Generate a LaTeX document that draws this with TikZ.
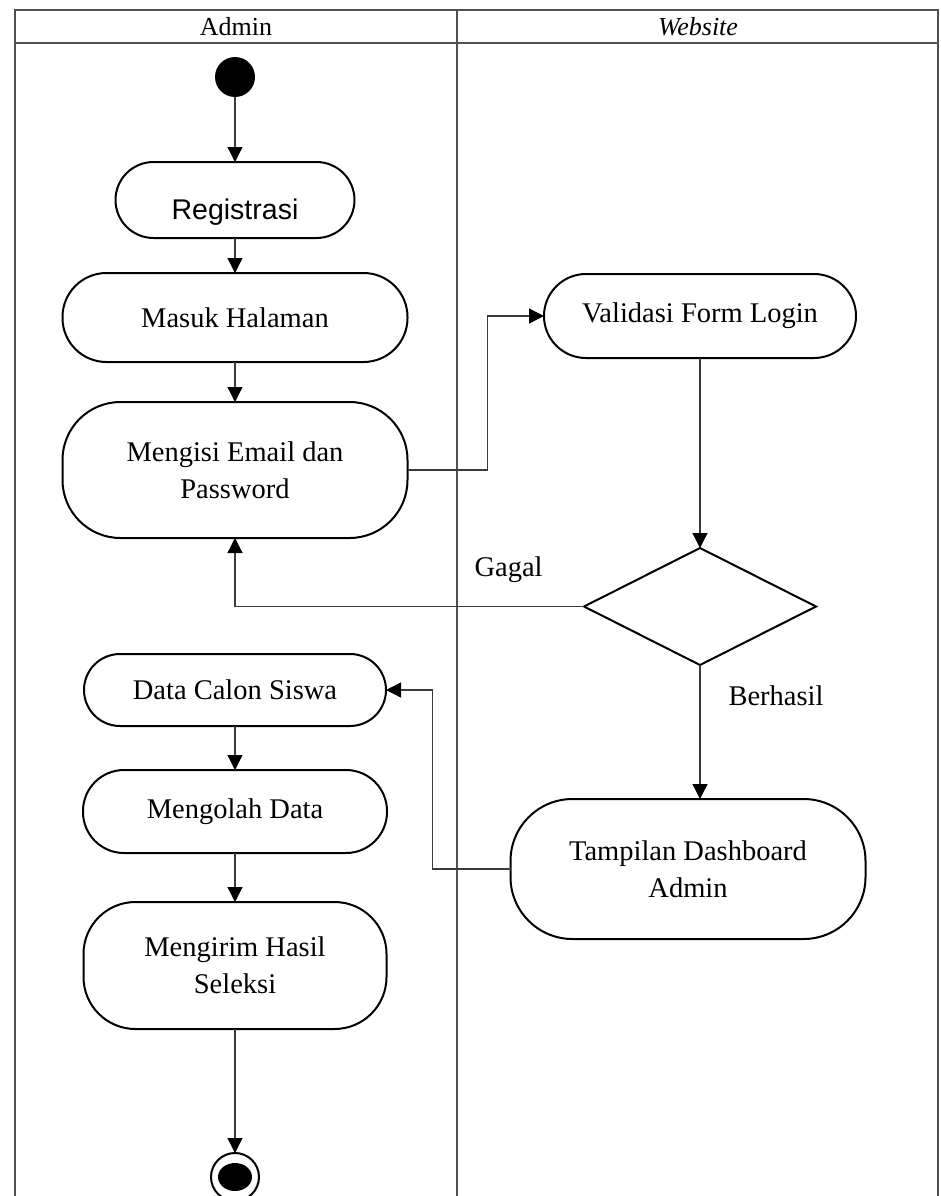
\documentclass[tikz,border=0pt]{standalone}
\usepackage{fontspec}
\setmainfont{Liberation Serif}
\newfontfamily\armfont{Liberation Sans}
\usetikzlibrary{positioning, arrows.meta, shapes.geometric}
\definecolor{lgray}{HTML}{505050}
\definecolor{cgray}{HTML}{3A3A3A}

\begin{document}
\begin{tikzpicture}[x=1pt, y=-1pt,
    act/.style={rectangle, draw=black, line width=2pt, rounded corners=#1, align=center, font=\fontsize{28.5}{37}\selectfont, inner sep=0pt, outer sep=0pt},
    act/.default=40pt,
    arr/.style={-{Triangle[length=15pt, width=15pt, color=black]}, line width=1.3pt, cgray},
    lane/.style={line width=1.5pt, lgray},
    lbl/.style={font=\fontsize{28.5}{37}\selectfont},
]
\useasboundingbox (0,0) rectangle (940,1196);

% swimlanes
\draw[lane] (15,1196) -- (15,10) -- (938,10) -- (938,1196);
\draw[lane] (15,43) -- (938,43);
\draw[lane] (457,10) -- (457,1196);
\node[font=\fontsize{26}{30}\selectfont] (hadmin) at (236,27) {Admin};
\node[font=\fontsize{26}{30}\selectfont] (hweb) at (698,27) {\textit{Website}};

% admin lane
\node[circle, fill=black, minimum size=40pt, inner sep=0pt, outer sep=0pt] (start) at (235,77) {};
\node[act=38pt, minimum width=239pt, minimum height=76pt, below=65pt of start, font=\armfont\fontsize{28.5}{37}\selectfont] (regis) {\raisebox{-12pt}[\height][\depth]{Registrasi}};
\node[act=44pt, minimum width=345pt, minimum height=89pt, below=35pt of regis] (masuk) {Masuk Halaman};
\node[act=58pt, minimum width=345pt, minimum height=136pt, below=40pt of masuk] (isi) {Mengisi Email dan\\Password};
\node[act=36pt, minimum width=302pt, minimum height=72pt, below=116pt of isi] (data) {Data Calon Siswa};
\node[act=41pt, minimum width=304pt, minimum height=83pt, below=44pt of data] (olah) {Mengolah Data};
\node[act=52pt, minimum width=303pt, minimum height=127pt, below=49pt of olah] (kirim) {Mengirim Hasil\\Seleksi};
\node[circle, draw=black, line width=2pt, minimum size=48pt, inner sep=0pt, outer sep=0pt, below=124pt of kirim] (end) {};
\fill (end.center) ellipse [x radius=17, y radius=14];

% website lane
\node[act=42pt, minimum width=312pt, minimum height=84pt] (valid) at (700,316) {Validasi Form Login};
\node[diamond, draw=black, line width=2pt, minimum width=232pt, minimum height=117pt, inner sep=0pt, outer sep=0pt, below=190pt of valid] (dec) {};
\node[act=62pt, minimum width=355pt, minimum height=140pt] (tamp) at (688,869) {Tampilan Dashboard\\Admin};

\node[lbl, anchor=base west] (gagal) at (471,576) {Gagal};
\node[lbl, anchor=base west] (hasil) at (725,705) {Berhasil};

% flows
\draw[arr] (start) -- (regis);
\draw[arr] (regis) -- (masuk);
\draw[arr] (masuk) -- (isi);
\draw[arr] (isi.east) -- ++(80,0) |- (valid.west);
\draw[arr] (valid) -- (dec);
\draw[arr] (dec.west) -| (isi.south);
\draw[arr] (dec.south) -- (dec.south |- tamp.north);
\draw[arr] (tamp.west) -- ++(-78,0) |- (data.east);
\draw[arr] (data) -- (olah);
\draw[arr] (olah) -- (kirim);
\draw[arr] (kirim) -- (end);
\end{tikzpicture}
\end{document}
